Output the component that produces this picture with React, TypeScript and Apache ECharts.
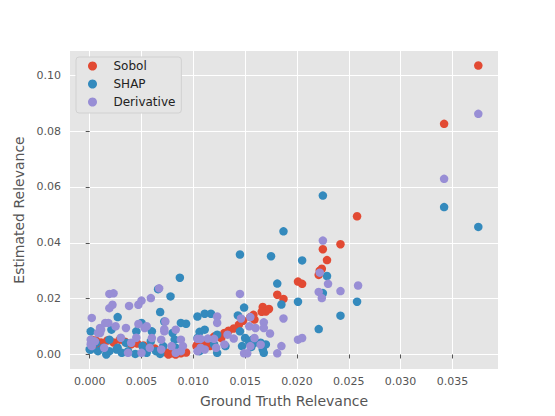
import { useEffect, useRef } from "react";
import * as echarts from "echarts";

// [ground truth relevance, estimated relevance]
const sobol: [number, number][] = [
  [0.0375, 0.1035], [0.0342, 0.0826], [0.0258, 0.0495], [0.0242, 0.0395], [0.0225, 0.0377],
  [0.0229, 0.0338], [0.0224, 0.0307], [0.0222, 0.03], [0.0221, 0.0285], [0.0201, 0.0261],
  [0.0205, 0.0253], [0.0181, 0.0214], [0.0187, 0.0199], [0.0167, 0.017], [0.0173, 0.0163],
  [0.017, 0.0154], [0.0166, 0.0153], [0.0158, 0.0142], [0.0155, 0.0134], [0.0159, 0.0125],
  [0.0148, 0.0121], [0.0144, 0.0107], [0.0139, 0.0093], [0.013, 0.0077], [0.0127, 0.0059],
  [0.0112, 0.0039], [0.0116, 0.003], [0.0109, 0.0027], [0.0104, 0.0036], [0.0103, 0.003],
  [0.0134, 0.0085], [0.012, 0.0064],
  [0.0002, 0.0053], [0.0006, 0.005], [0.0011, 0.0043], [0.0017, 0.005], [0.0023, 0.0043],
  [0.0029, 0.0053], [0.0034, 0.0046], [0.004, 0.0036], [0.0046, 0.0039], [0.0052, 0.0032],
  [0.0057, 0.0025], [0.0063, 0.0021], [0.0069, 0.0014], [0.0074, 0.0007], [0.0079, 0.0004],
  [0.0083, 0.0], [0.0088, 0.0004], [0.0093, 0.0007], [0.0076, 0.0], [0.0086, 0.0014],
  [0.0007, 0.0032],
];

const shap: [number, number][] = [
  [0.0375, 0.0457], [0.0342, 0.0528], [0.0258, 0.0189], [0.0242, 0.0139], [0.0225, 0.0569],
  [0.0187, 0.0441], [0.0205, 0.0337], [0.0175, 0.0352], [0.0229, 0.0281], [0.0181, 0.0254],
  [0.0225, 0.022], [0.0201, 0.0189], [0.0185, 0.0179], [0.0221, 0.0091], [0.0145, 0.0358],
  [0.0149, 0.0168], [0.0117, 0.0146], [0.0143, 0.014], [0.0104, 0.0136], [0.0111, 0.0146],
  [0.0106, 0.0081], [0.0111, 0.0089], [0.0123, 0.0071], [0.0145, 0.0083], [0.015, 0.0059],
  [0.0157, 0.0053], [0.0159, 0.0042], [0.0165, 0.0042], [0.0147, 0.003], [0.0156, 0.0027],
  [0.0167, 0.0018], [0.0123, 0.0006], [0.0168, 0.0006], [0.0106, 0.0012], [0.0131, 0.003],
  [0.0154, 0.0042], [0.017, 0.0036], [0.0104, 0.0059], [0.012, 0.0036],
  [0.0066, 0.0234], [0.0087, 0.0275], [0.0078, 0.0208], [0.0068, 0.0152], [0.0027, 0.0134],
  [0.0088, 0.0113], [0.0093, 0.011], [0.0072, 0.0118], [0.005, 0.0113], [0.0001, 0.0083],
  [0.0045, 0.0083], [0.006, 0.0083], [0.008, 0.0077], [0.0019, 0.0053], [0.0001, 0.0018],
  [0.0008, 0.0012], [0.0013, 0.0024], [0.0019, 0.0012], [0.0035, 0.0042], [0.0037, 0.0012],
  [0.0051, 0.003], [0.0059, 0.0047], [0.0071, 0.003], [0.0083, 0.0024], [0.0006, 0.0042],
  [0.0027, 0.0024], [0.0064, 0.0012], [0.0055, 0.0006], [0.0016, 0.0], [0.0021, 0.0089],
  [0.0, 0.0018], [0.0026, 0.0018], [0.0082, 0.0053], [0.0031, 0.0006], [0.0044, 0.0002],
  [0.0068, 0.0002],
];

const derivative: [number, number][] = [
  [0.0375, 0.0862], [0.0342, 0.0629], [0.0242, 0.0227], [0.0259, 0.0247], [0.0225, 0.0408],
  [0.0222, 0.0293], [0.023, 0.0253], [0.0221, 0.0224], [0.0224, 0.0202], [0.0145, 0.0217],
  [0.0187, 0.0129], [0.0174, 0.0075], [0.0201, 0.0053], [0.0205, 0.0059], [0.0185, 0.003],
  [0.0181, 0.0004], [0.0149, 0.0004], [0.0152, 0.0004], [0.0165, 0.0035], [0.0159, 0.0059],
  [0.0155, 0.0134], [0.0168, 0.0115], [0.0168, 0.0095], [0.016, 0.0095], [0.0154, 0.0101],
  [0.0146, 0.0129], [0.0123, 0.0136], [0.0123, 0.0113], [0.0133, 0.0071], [0.0139, 0.0057],
  [0.012, 0.0056], [0.0114, 0.0057], [0.0107, 0.0056], [0.013, 0.0036], [0.0122, 0.0024],
  [0.0111, 0.0018], [0.0155, 0.003], [0.0104, 0.0012], [0.0107, 0.0024], [0.0104, 0.0056],
  [0.0002, 0.0131], [0.0019, 0.0217], [0.0023, 0.0219], [0.0022, 0.0178], [0.0019, 0.0166],
  [0.0038, 0.0174], [0.0047, 0.0178], [0.005, 0.0193], [0.0059, 0.0202], [0.0067, 0.0237],
  [0.0018, 0.0113], [0.0025, 0.0101], [0.0035, 0.0095], [0.0047, 0.0109], [0.0055, 0.0101],
  [0.0073, 0.0118], [0.0083, 0.0089], [0.0072, 0.0083], [0.001, 0.0077], [0.0001, 0.0053],
  [0.0001, 0.0036], [0.0011, 0.0089], [0.0053, 0.0095], [0.0072, 0.0091], [0.006, 0.0059],
  [0.0069, 0.0053], [0.0088, 0.0053], [0.009, 0.003], [0.0079, 0.003], [0.0083, 0.0006],
  [0.005, 0.0006], [0.0037, 0.0006], [0.0014, 0.0024], [0.0002, 0.003], [0.004, 0.0042],
  [0.0058, 0.0024], [0.0008, 0.0077], [0.001, 0.0095], [0.0005, 0.0047], [0.0069, 0.0018],
  [0.0088, 0.0012], [0.0015, 0.0113], [0.003, 0.006], [0.0045, 0.006],
];

const xTicks = [0, 0.005, 0.01, 0.015, 0.02, 0.025, 0.03, 0.035];
const yTicks = [0, 0.02, 0.04, 0.06, 0.08, 0.1];

const FONT = "DejaVu Sans";

export default function App() {
  const ref = useRef<HTMLDivElement | null>(null);

  useEffect(() => {
    if (!ref.current) return;
    const chart = echarts.init(ref.current, undefined, { renderer: "svg" });

    const tickStyle = { show: true, length: 4, inside: false, lineStyle: { color: "#555555", width: 1 } };
    const split = { show: true, lineStyle: { color: "#ffffff", width: 1 } };

    const option: echarts.EChartsOption = {
      animation: false,
      backgroundColor: "#ffffff",
      textStyle: { fontFamily: FONT },
      grid: {
        left: 70, right: 57, top: 51, bottom: 47,
        show: true, backgroundColor: "#E5E5E5", borderWidth: 0,
      },
      legend: {
        orient: "vertical",
        left: 76,
        top: 57,
        padding: [3, 6, 5, 12],
        itemGap: 6,
        itemWidth: 32,
        itemHeight: 9,
        icon: "circle",
        backgroundColor: "#E5E5E5",
        borderColor: "#D1D1D1",
        borderWidth: 1,
        borderRadius: 3,
        textStyle: { fontFamily: FONT, fontSize: 12, color: "#222222", lineHeight: 12 },
        data: ["Sobol", "SHAP", "Derivative"],
      },
      xAxis: {
        type: "value",
        min: -0.0019,
        max: 0.0394,
        name: "Ground Truth Relevance",
        nameLocation: "middle",
        nameGap: 25,
        nameTextStyle: { fontFamily: FONT, fontSize: 14, color: "#555555" },
        axisLine: { show: false },
        axisTick: { ...tickStyle, customValues: xTicks },
        splitLine: split,
        axisLabel: {
          customValues: xTicks,
          margin: 7,
          fontFamily: FONT,
          fontSize: 11,
          color: "#555555",
          formatter: (v: number) => v.toFixed(3),
        },
      },
      yAxis: {
        type: "value",
        min: -0.0052,
        max: 0.1087,
        name: "Estimated Relevance",
        nameLocation: "middle",
        nameGap: 42,
        nameTextStyle: { fontFamily: FONT, fontSize: 14, color: "#555555" },
        axisLine: { show: false },
        axisTick: { ...tickStyle, customValues: yTicks },
        splitLine: split,
        axisLabel: {
          customValues: yTicks,
          margin: 9,
          fontFamily: FONT,
          fontSize: 11,
          color: "#555555",
          formatter: (v: number) => v.toFixed(2),
        },
      },
      series: [
        { name: "Sobol", type: "scatter", data: sobol, symbolSize: 8.5, itemStyle: { color: "#E24A33", opacity: 1 } },
        { name: "SHAP", type: "scatter", data: shap, symbolSize: 8.5, itemStyle: { color: "#348ABD", opacity: 1 } },
        { name: "Derivative", type: "scatter", data: derivative, symbolSize: 8.5, itemStyle: { color: "#988ED5", opacity: 1 } },
      ],
    };

    chart.setOption(option);
    return () => {
      chart.dispose();
    };
  }, []);

  return <div ref={ref} style={{ position: "fixed", left: 0, top: 0, width: 555, height: 416 }} />;
}
